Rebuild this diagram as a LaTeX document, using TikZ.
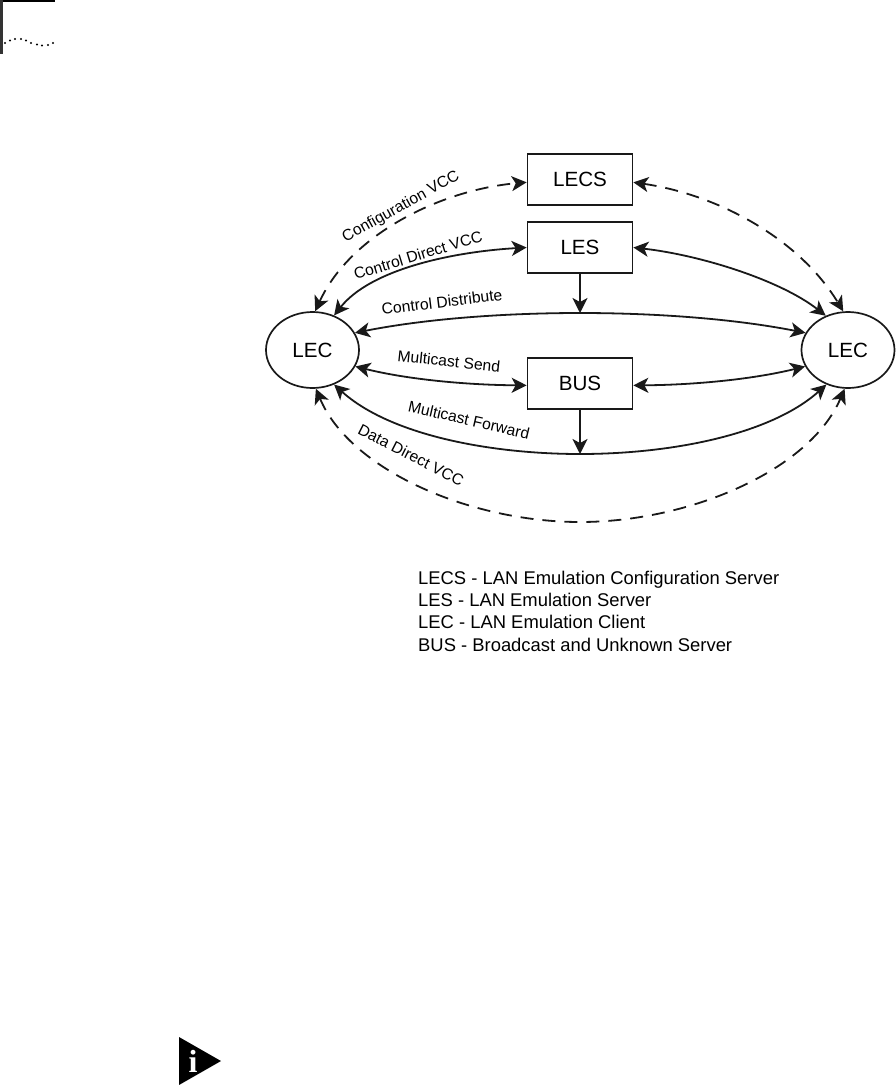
\documentclass[tikz,border=0pt]{standalone}
\usepackage{fontspec}
\setmainfont{Liberation Sans}
\newfontfamily\iconfont{Liberation Serif}
\usetikzlibrary{shapes.geometric, arrows.meta}
\tikzset{
  serverbox/.style={draw=black!90, line width=1.7pt, rectangle, minimum width=105pt, minimum height=51pt,
                    inner sep=0pt, font=\fontsize{20.6}{24}\selectfont},
  clientnode/.style={draw=black!90, line width=1.7pt, ellipse, minimum width=93pt, minimum height=76pt,
                     inner sep=0pt, font=\fontsize{20.6}{24}\selectfont},
  solidlink/.style={line width=1.8pt, black!90, {Stealth[length=15pt,width=15pt,inset=4pt]}-{Stealth[length=15pt,width=15pt,inset=4pt]}},
  dashlink/.style={solidlink, dash pattern=on 13pt off 9pt},
  droplink/.style={line width=1.8pt, black!90, -{Stealth[length=15pt,width=15pt,inset=4pt]}},
  linklabel/.style={inner sep=0pt, black, font=\fontsize{15.7}{18}\selectfont},
  legendline/.style={inner sep=0pt, anchor=base west, black, font=\fontsize{18.4}{22}\selectfont}
}
\begin{document}
\begin{tikzpicture}[x=1pt,y=-1pt]
  \useasboundingbox (0,0) rectangle (896,1085);
  % Marca do canto
  \draw[line width=2pt, black] (0,1) -- (55,1);
  \draw[line width=3pt, black!80] (1.5,0) -- (1.5,54);
  \foreach \px/\py in {5/43,10/40.5,15/39,21/39,26/40.5,31/43,37/44.5,42/45.5,48/45,53/43}
    \fill[black] (\px,\py) circle (1.1pt);
  % Servidores e clientes
  \node[serverbox] (lecsbox) at (580,179.5) {LECS};
  \node[serverbox] (lesbox) at (580,247.5) {LES};
  \node[serverbox] (busbox) at (580,383.5) {BUS};
  \node[clientnode] (lecleft) at (312.5,350) {LEC};
  \node[clientnode] (lecright) at (848,350) {LEC};
  \coordinate (distmid) at (580,313);
  \coordinate (fwdmid) at (580,454);
  % Ligacoes tracejadas
  \draw[dashlink] (lecleft.86) .. controls (350,235) and (440,190) .. (lecsbox.183);
  \draw[dashlink] (lecsbox.-3) .. controls (720,195) and (800,240) .. (lecright.97);
  \draw[dashlink] (lecleft.-85) .. controls (350,470) and (470,522) .. (580,522)
    .. controls (690,522) and (810,470) .. (lecright.-95);
  % Ligacoes continuas
  \draw[solidlink] (lecleft.58) .. controls (370,270) and (450,252) .. (lesbox.west);
  \draw[solidlink] (lesbox.east) .. controls (700,255) and (780,280) .. (lecright.123);
  \draw[solidlink] (lecleft.22) .. controls (430,318) and (510,313) .. (distmid)
    .. controls (650,313) and (730,318) .. (lecright.158);
  \draw[solidlink] (lecleft.-21) .. controls (410,380) and (470,385) .. (busbox.182);
  \draw[solidlink] (busbox.-2) .. controls (690,385) and (750,380) .. (lecright.-159);
  \draw[solidlink] (lecleft.-58) .. controls (390,435) and (490,454) .. (fwdmid)
    .. controls (670,454) and (770,435) .. (lecright.-122);
  % Setas para baixo
  \draw[droplink] (lesbox.south) -- (distmid);
  \draw[droplink] (busbox.south) -- (fwdmid);
  % Rotulos
  \node[linklabel, rotate=29] (configlabel) at (401,207) {Configuration VCC};
  \node[linklabel, rotate=17] (directlabel) at (418,255) {Control Direct VCC};
  \node[linklabel, rotate=7] (distlabel) at (442,302) {Control Distribute};
  \node[linklabel, rotate=-6] (sendlabel) at (449,361) {Multicast Send};
  \node[linklabel, rotate=-13] (fwdlabel) at (469,420) {Multicast Forward};
  \node[linklabel, rotate=-27] (datalabel) at (411,455) {Data Direct VCC};
  % Legenda
  \node[legendline] (legendlecs) at (418,584) {LECS - LAN Emulation Configuration Server};
  \node[legendline] (legendles) at (418,606) {LES - LAN Emulation Server};
  \node[legendline] (legendlec) at (418,628.5) {LEC - LAN Emulation Client};
  \node[legendline] (legendbus) at (418,651) {BUS - Broadcast and Unknown Server};
  % Icone de nota
  \fill[black] (179,1037) -- (221,1061) -- (179,1085) -- cycle;
  \node[inner sep=0pt, white, font=\iconfont\bfseries\fontsize{32}{32}\selectfont] (noteicon) at (193,1061) {i};
\end{tikzpicture}
\end{document}
